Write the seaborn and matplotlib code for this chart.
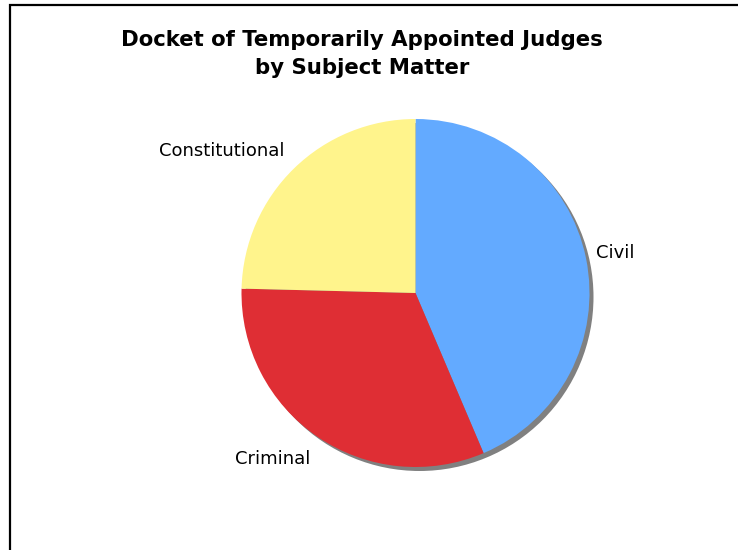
import matplotlib
matplotlib.use("Agg")
import matplotlib.pyplot as plt
from matplotlib.patches import Rectangle, Circle
from matplotlib.transforms import offset_copy
import seaborn as sns

sns.set_style("white")
plt.rcParams["font.family"] = ["DejaVu Sans"]

categories = ["Civil", "Criminal", "Constitutional"]
shares = [43.6, 31.8, 24.6]
colors = ["#63AAFF", "#DF2E34", "#FFF48C"]

W, H = 738, 550
fig = plt.figure(figsize=(W / 100, H / 100), dpi=100)
fig.patch.set_facecolor("white")

# outer chart border (open to the right and bottom edge)
fig.add_artist(Rectangle((9.5 / W, -0.05), 1.2, (H - 5) / H + 0.05,
                         transform=fig.transFigure, fill=False,
                         edgecolor="black", linewidth=1.6))

fig.text(362 / W, 1 - 53.5 / H,
         "Docket of Temporarily Appointed Judges\nby Subject Matter",
         ha="center", va="center", fontsize=15.3, fontweight="bold",
         color="black", linespacing=1.5)

cx, cy, r = 415.5, 293, 174
ax = fig.add_axes([(cx - r) / W, (H - cy - r) / H, 2 * r / W, 2 * r / H])
ax.set_xlim(-1, 1)
ax.set_ylim(-1, 1)
ax.axis("off")

# drop shadow under the pie
shadow = Circle((0, 0), 1, facecolor="#808080", edgecolor="none",
                transform=offset_copy(ax.transData, fig, x=4, y=-4, units="dots"),
                zorder=0, clip_on=False)
ax.add_patch(shadow)

wedges, texts = ax.pie(shares, labels=categories, colors=colors,
                       startangle=90, counterclock=False, radius=1,
                       labeldistance=1.07,
                       wedgeprops=dict(linewidth=0, clip_on=False),
                       textprops=dict(fontsize=13, color="black"))
for w in wedges:
    w.set_zorder(1)

# small nudges of the slice labels (axes data units)
nudges = {"Civil": (-0.01, 0.015), "Criminal": (0.0, -0.07), "Constitutional": (-0.005, 0.05)}
for t in texts:
    x, y = t.get_position()
    dx, dy = nudges[t.get_text()]
    t.set_position((x + dx, y + dy))

ax.set_xlim(-1, 1)
ax.set_ylim(-1, 1)

fig.savefig("out.png", dpi=100, facecolor="white")
